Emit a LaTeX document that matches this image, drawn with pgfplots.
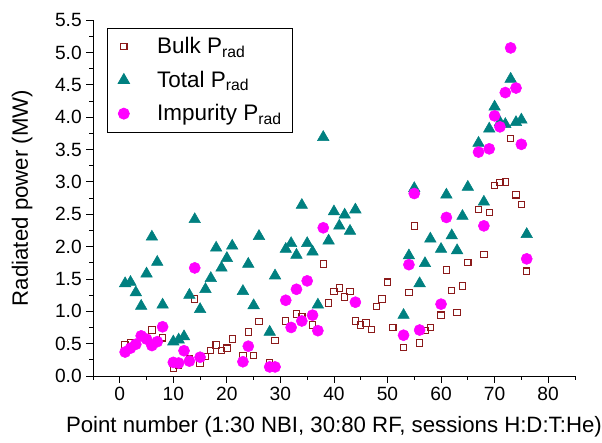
\documentclass[border=0pt]{standalone}
\usepackage{fontspec}
\setmainfont{Liberation Sans}
\usepackage{pgfplots}
\usepackage{pgfplotstable}
\pgfplotsset{compat=1.18}

\definecolor{bulkc}{RGB}{139,26,26}
\definecolor{totc}{RGB}{0,128,128}
\definecolor{impc}{RGB}{255,0,255}

% point number, radiated power (MW)
\pgfplotstableread{
n  p
1  0.48
2  0.52
6  0.71
8  0.59
10 0.12
11 0.16
13 0.26
14 1.19
15 0.20
16 0.30
17 0.39
18 0.48
19 0.39
20 0.43
21 0.57
23 0.32
24 0.68
25 0.32
26 0.84
28 0.20
29 0.55
31 0.85
33 0.96
34 0.92
36 0.79
38 1.73
39 1.13
40 1.31
41 1.36
42 1.22
43 1.31
44 0.85
45 0.79
46 0.82
47 0.72
48 1.07
49 1.19
50 1.45
51 0.75
53 0.44
54 1.29
55 2.32
56 0.51
57 0.70
58 0.75
60 0.94
61 1.64
62 1.32
63 0.98
64 1.39
65 1.75
67 2.57
68 1.88
69 2.53
70 2.94
71 2.99
72 3.00
73 3.67
74 2.80
75 2.65
76 1.62
}\bulk

\pgfplotstableread{
n  p
1  1.43
2  1.45
3  1.29
4  1.08
5  1.58
6  2.15
7  1.76
8  1.10
10 0.53
11 0.56
12 0.61
13 1.25
14 2.42
15 1.03
16 1.34
17 1.51
18 1.98
19 1.67
20 1.82
21 2.01
23 1.31
24 1.73
25 1.09
26 2.16
28 0.68
29 1.55
31 1.96
32 2.05
33 1.87
34 2.64
35 2.05
36 1.92
37 1.10
38 3.69
39 2.09
40 2.54
41 2.32
42 2.49
43 2.24
44 2.57
53 0.94
54 1.86
55 2.90
56 1.43
57 1.74
58 2.12
60 1.96
61 2.80
62 2.17
63 1.94
64 2.47
65 2.92
67 3.60
68 2.69
69 3.82
70 4.16
71 3.92
72 3.89
73 4.59
74 3.92
75 3.96
76 2.19
}\total

\pgfplotstableread{
n  p
1  0.37
2  0.43
3  0.49
4  0.62
5  0.57
6  0.47
7  0.53
8  0.76
10 0.21
11 0.20
12 0.39
13 0.23
14 1.67
15 0.29
23 0.22
24 0.46
28 0.14
29 0.14
31 1.17
32 0.75
33 1.34
34 0.85
35 1.47
36 0.94
37 0.70
38 2.29
44 1.14
53 0.63
54 1.72
55 2.82
56 0.71
60 1.11
61 2.45
67 3.46
68 2.32
69 3.51
70 4.02
71 3.85
72 4.38
73 5.07
74 4.45
75 3.58
76 1.81
}\impur

\begin{document}
\begin{tikzpicture}
\begin{axis}[
    scale only axis,
    width=12.81cm, height=9.46cm,
    axis lines*=left,
    xmin=-5, xmax=85, ymin=0, ymax=5.5,
    xtick={0,10,...,80},
    minor xtick={-5,5,...,85},
    ytick={0,0.5,...,5.5},
    minor ytick={0.25,0.75,...,5.25},
    tick align=outside,
    major tick length=5pt, minor tick length=3pt,
    tick style={black, line width=0.6pt},
    axis line style={line width=0.6pt},
    /pgf/number format/assume math mode=true,
    yticklabel style={/pgf/number format/.cd, fixed, fixed zerofill, precision=1},
    tick label style={font=\fontsize{14.5}{17}\selectfont},
    label style={font=\fontsize{16.8}{20}\selectfont},
    xlabel={Point number (1:30 NBI, 30:80 RF, sessions H:D:T:He)},
    ylabel={Radiated power (MW)},
    xlabel style={at={(axis description cs:0.5,-0.143)}, anchor=center},
    ylabel style={at={(axis description cs:-0.147,0.5)}, anchor=center},
    legend style={at={(axis description cs:0.03,0.978)}, anchor=north west,
        draw=black, line width=0.6pt, font=\fontsize{17}{20}\selectfont,
        row sep=7.5pt, inner xsep=6pt, inner ysep=5pt},
    legend cell align=left,
    legend image code/.code={%
        \path (0cm,0cm) (1.0cm,0cm);
        \draw[mark repeat=2,mark phase=2,#1]
            plot coordinates {(0cm,0cm) (0.2cm,0cm) (0.4cm,0cm)};},
]
\addplot[only marks, mark=square, mark size=2.4pt, draw=bulkc, line width=0.8pt,
    mark options={fill=white}] table[x=n, y=p] {\bulk};
\addlegendentry{Bulk P\textsubscript{rad}}
\addplot[only marks, mark=triangle*, mark size=5pt, draw=totc, fill=totc]
    table[x=n, y=p] {\total};
\addlegendentry{Total P\textsubscript{rad}}
\addplot[only marks, mark=*, mark size=4.2pt, draw=impc, fill=impc]
    table[x=n, y=p] {\impur};
\addlegendentry{Impurity P\textsubscript{rad}}
\end{axis}
\pgfresetboundingbox
\path[use as bounding box] (-2.472,-1.781) rectangle (13.53,9.994);
\end{tikzpicture}
\end{document}
